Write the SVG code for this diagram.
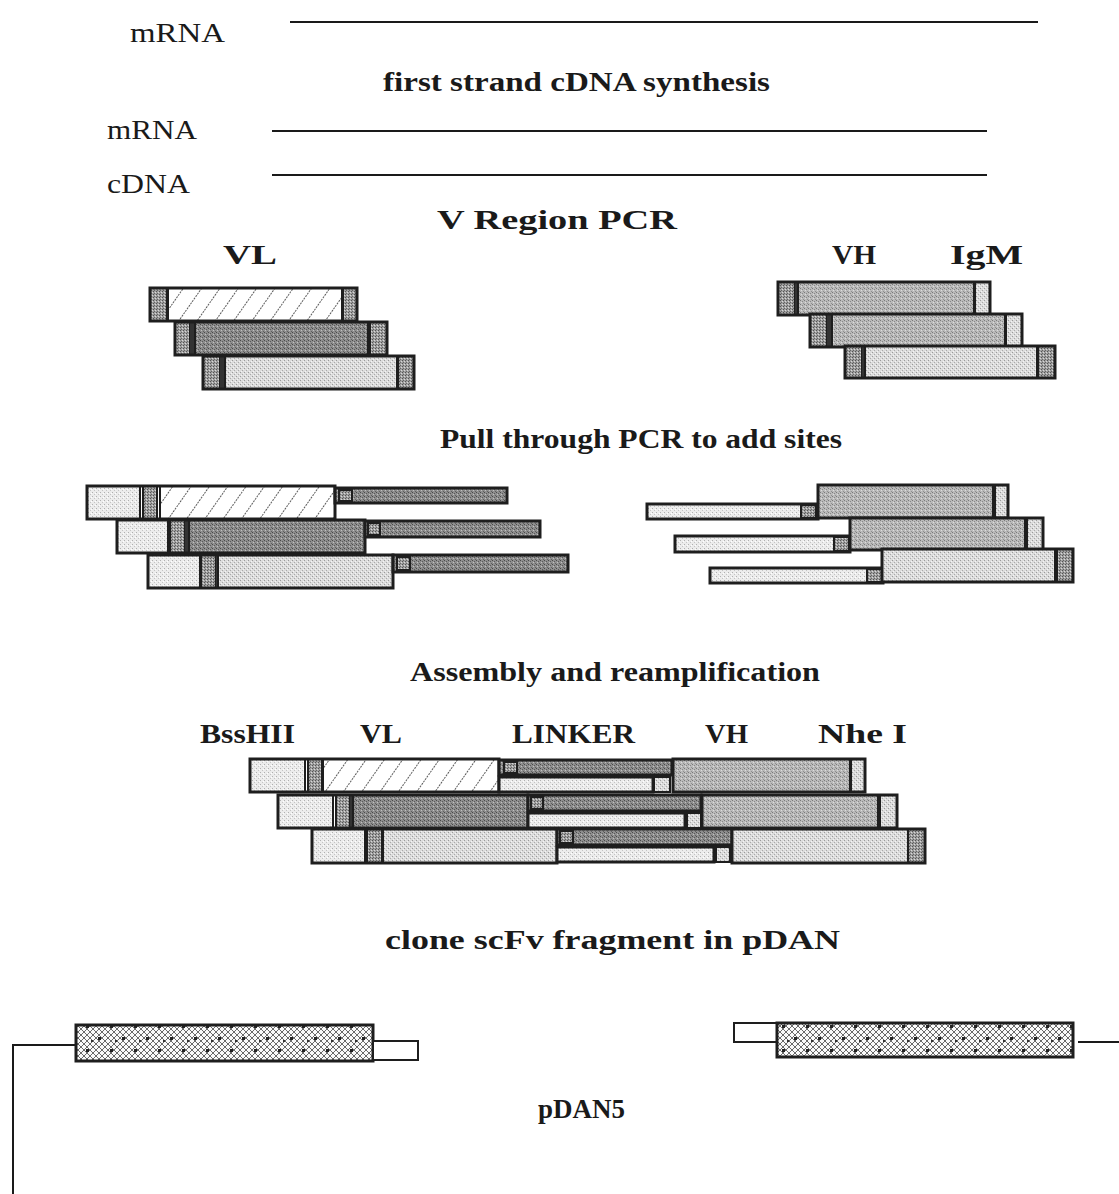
<svg xmlns="http://www.w3.org/2000/svg" width="1119" height="1194" viewBox="0 0 1119 1194">
<style>
text{font-family:"Liberation Serif","Times New Roman",serif;fill:#1a1a1a}
.t{font-size:28px}
.b{font-size:28px;font-weight:bold}
.o{stroke:#1e1e1e;stroke-width:3}
.s{stroke:#1e1e1e;stroke-width:2}
.ln{stroke:#1a1a1a;stroke-width:2;fill:none}
.hatch{fill:url(#hatch)}
.lt{fill:url(#light)}
.md{fill:url(#medium)}
.dk{fill:url(#dark)}
.cp{fill:url(#cap)}
.pl{fill:url(#pale)}
.xh{fill:url(#xhatch)}
.wh{fill:#fff}
</style>
<defs>
<pattern id="hatch" width="15" height="12" patternUnits="userSpaceOnUse" patternTransform="rotate(35)">
<rect width="15" height="12" fill="#fff"/>
<line x1="0" y1="0" x2="0" y2="12" stroke="#333" stroke-width="1.6" stroke-dasharray="2 1"/>
</pattern>
<pattern id="light" width="4" height="4" patternUnits="userSpaceOnUse">
<rect width="4" height="4" fill="#dcdcdc"/>
<rect x="0" y="0" width="1" height="1" fill="#9a9a9a"/>
<rect x="2" y="2" width="1" height="1" fill="#aaa"/>
<rect x="3" y="1" width="1" height="1" fill="#f4f4f4"/>
<rect x="1" y="3" width="1" height="1" fill="#f4f4f4"/>
</pattern>
<pattern id="pale" width="4" height="4" patternUnits="userSpaceOnUse">
<rect width="4" height="4" fill="#ececec"/>
<rect x="0" y="0" width="1" height="1" fill="#b0b0b0"/>
<rect x="2" y="2" width="1" height="1" fill="#c4c4c4"/>
<rect x="3" y="1" width="1" height="1" fill="#fff"/>
</pattern>
<pattern id="medium" width="4" height="4" patternUnits="userSpaceOnUse">
<rect width="4" height="4" fill="#bababa"/>
<rect x="0" y="0" width="1" height="1" fill="#7a7a7a"/>
<rect x="2" y="1" width="1" height="1" fill="#888"/>
<rect x="1" y="2" width="1" height="1" fill="#dcdcdc"/>
<rect x="3" y="3" width="1" height="1" fill="#909090"/>
</pattern>
<pattern id="dark" width="4" height="4" patternUnits="userSpaceOnUse">
<rect width="4" height="4" fill="#8e8e8e"/>
<rect x="0" y="0" width="1" height="1" fill="#4a4a4a"/>
<rect x="2" y="1" width="1" height="1" fill="#5a5a5a"/>
<rect x="1" y="2" width="1" height="1" fill="#c0c0c0"/>
<rect x="3" y="3" width="1" height="1" fill="#606060"/>
</pattern>
<pattern id="cap" width="3" height="3" patternUnits="userSpaceOnUse">
<rect width="3" height="3" fill="#a0a0a0"/>
<rect x="0" y="0" width="1" height="1" fill="#555"/>
<rect x="2" y="1" width="1" height="1" fill="#d8d8d8"/>
<rect x="1" y="2" width="1" height="1" fill="#666"/>
</pattern>
<pattern id="xhatch" width="24" height="24" patternUnits="userSpaceOnUse">
<rect width="24" height="24" fill="#fafafa"/>
<path d="M0 0L24 24M6 0L24 18M12 0L24 12M18 0L24 6M0 6L18 24M0 12L12 24M0 18L6 24M24 0L0 24M18 0L0 18M12 0L0 12M6 0L0 6M24 6L6 24M24 12L12 24M24 18L18 24" stroke="#6a6a6a" stroke-width="1"/>
<rect x="2" y="5" width="3" height="3" fill="#222"/>
<rect x="14" y="17" width="3" height="3" fill="#222"/>
<rect x="19" y="8" width="2" height="2" fill="#333"/>
</pattern>
</defs>

<g id="mrna-top">
<text class="t" x="130" y="42" textLength="95" lengthAdjust="spacingAndGlyphs">mRNA</text>
<line class="ln" x1="290" y1="22" x2="1038" y2="22"/>
</g>
<g id="title-first-strand"><text class="b" x="383" y="91" textLength="387" lengthAdjust="spacingAndGlyphs">first strand cDNA synthesis</text></g>
<g id="mrna-2">
<text class="t" x="107" y="139" textLength="90" lengthAdjust="spacingAndGlyphs">mRNA</text>
<line class="ln" x1="272" y1="131" x2="987" y2="131"/>
</g>
<g id="cdna">
<text class="t" x="107" y="193" textLength="83" lengthAdjust="spacingAndGlyphs">cDNA</text>
<line class="ln" x1="272" y1="175" x2="987" y2="175"/>
</g>
<g id="title-vregion"><text class="b" x="437" y="229" textLength="240" lengthAdjust="spacingAndGlyphs">V Region PCR</text></g>
<g id="label-vl"><text class="b" x="223" y="264" textLength="54" lengthAdjust="spacingAndGlyphs">VL</text></g>
<g id="label-vh"><text class="b" x="832" y="264" textLength="44" lengthAdjust="spacingAndGlyphs">VH</text></g>
<g id="label-igm"><text class="b" x="950" y="264" textLength="73" lengthAdjust="spacingAndGlyphs">IgM</text></g>

<g id="vl-fragments">
<rect class="cp s" x="150" y="288" width="17" height="33"/>
<rect class="hatch s" x="168" y="288" width="174" height="33"/>
<rect class="cp s" x="343" y="288" width="14" height="33"/>
<rect class="o" fill="none" x="150" y="288" width="207" height="33"/>

<rect class="cp s" x="175" y="322" width="15" height="33"/>
<rect fill="#333" x="190" y="322" width="5" height="33"/>
<rect class="dk s" x="195" y="322" width="173" height="33"/>
<rect class="cp s" x="370" y="322" width="17" height="33"/>
<rect class="o" fill="none" x="175" y="322" width="212" height="33"/>

<rect class="cp s" x="203" y="356" width="17" height="33"/>
<rect fill="#333" x="220" y="356" width="5" height="33"/>
<rect class="lt s" x="225" y="356" width="172" height="33"/>
<rect class="cp s" x="398" y="356" width="16" height="33"/>
<rect class="o" fill="none" x="203" y="356" width="211" height="33"/>
</g>

<g id="vh-fragments">
<rect class="cp s" x="778" y="282" width="17" height="33"/>
<rect fill="#333" x="795" y="282" width="3" height="33"/>
<rect class="md s" x="798" y="282" width="176" height="33"/>
<rect class="lt s" x="975" y="282" width="15" height="33"/>
<rect class="o" fill="none" x="778" y="282" width="212" height="33"/>

<rect class="cp s" x="810" y="314" width="17" height="33"/>
<rect fill="#333" x="827" y="314" width="5" height="33"/>
<rect class="md s" x="832" y="314" width="173" height="33"/>
<rect class="lt s" x="1006" y="314" width="16" height="33"/>
<rect class="o" fill="none" x="810" y="314" width="212" height="33"/>

<rect class="cp s" x="845" y="346" width="17" height="32"/>
<rect fill="#333" x="862" y="346" width="3" height="32"/>
<rect class="lt s" x="865" y="346" width="172" height="32"/>
<rect class="cp s" x="1038" y="346" width="17" height="32"/>
<rect class="o" fill="none" x="845" y="346" width="210" height="32"/>
</g>

<g id="title-pull"><text class="b" x="440" y="448" textLength="402" lengthAdjust="spacingAndGlyphs">Pull through PCR to add sites</text></g>

<g id="pull-left">
<rect class="pl s" x="87" y="486" width="53" height="33"/>
<rect class="cp s" x="143" y="486" width="14" height="33"/>
<rect class="hatch s" x="160" y="486" width="175" height="33"/>
<rect class="o" fill="none" x="87" y="486" width="248" height="33"/>
<rect class="dk o" x="335" y="488" width="172" height="15"/>
<rect class="cp s" x="339" y="490" width="13" height="11"/>

<rect class="pl s" x="117" y="520" width="51" height="33"/>
<rect class="cp s" x="170" y="520" width="15" height="33"/>
<rect fill="#333" x="185" y="520" width="4" height="33"/>
<rect class="dk s" x="189" y="520" width="176" height="33"/>
<rect class="o" fill="none" x="117" y="520" width="248" height="33"/>
<rect class="dk o" x="365" y="521" width="175" height="16"/>
<rect class="cp s" x="368" y="523" width="12" height="12"/>

<rect class="pl s" x="148" y="555" width="52" height="33"/>
<rect class="cp s" x="201" y="555" width="15" height="33"/>
<rect fill="#333" x="216" y="555" width="2" height="33"/>
<rect class="lt s" x="218" y="555" width="175" height="33"/>
<rect class="o" fill="none" x="148" y="555" width="245" height="33"/>
<rect class="dk o" x="393" y="555" width="175" height="17"/>
<rect class="cp s" x="397" y="557" width="13" height="13"/>
</g>

<g id="pull-right">
<rect class="pl o" x="647" y="504" width="171" height="15"/>
<rect class="cp s" x="801" y="505" width="15" height="13"/>
<rect class="md s" x="818" y="485" width="175" height="33"/>
<rect class="lt s" x="995" y="485" width="13" height="33"/>
<rect class="o" fill="none" x="818" y="485" width="190" height="33"/>

<rect class="pl o" x="675" y="536" width="175" height="16"/>
<rect class="cp s" x="834" y="537" width="15" height="14"/>
<rect class="md s" x="850" y="518" width="175" height="32"/>
<rect class="lt s" x="1027" y="518" width="16" height="32"/>
<rect class="o" fill="none" x="850" y="518" width="193" height="32"/>

<rect class="pl o" x="710" y="568" width="173" height="15"/>
<rect class="cp s" x="867" y="569" width="15" height="13"/>
<rect class="lt s" x="882" y="549" width="173" height="33"/>
<rect class="cp s" x="1057" y="549" width="16" height="33"/>
<rect class="o" fill="none" x="882" y="549" width="191" height="33"/>
</g>

<g id="title-assembly"><text class="b" x="410" y="681" textLength="410" lengthAdjust="spacingAndGlyphs">Assembly and reamplification</text></g>
<g id="label-bsshii"><text class="b" x="200" y="743" textLength="95" lengthAdjust="spacingAndGlyphs">BssHII</text></g>
<g id="label-vl2"><text class="b" x="360" y="743" textLength="42" lengthAdjust="spacingAndGlyphs">VL</text></g>
<g id="label-linker"><text class="b" x="512" y="743" textLength="123" lengthAdjust="spacingAndGlyphs">LINKER</text></g>
<g id="label-vh2"><text class="b" x="705" y="743" textLength="43" lengthAdjust="spacingAndGlyphs">VH</text></g>
<g id="label-nhei"><text class="b" x="818" y="743" textLength="89" lengthAdjust="spacingAndGlyphs">Nhe I</text></g>

<g id="assembly">
<rect class="pl s" x="250" y="759" width="55" height="33"/>
<rect class="cp s" x="308" y="759" width="14" height="33"/>
<rect class="hatch s" x="323" y="759" width="176" height="33"/>
<rect class="o" fill="none" x="250" y="759" width="249" height="33"/>
<rect class="dk o" x="499" y="760" width="173" height="15"/>
<rect class="cp s" x="504" y="762" width="13" height="11"/>
<rect class="pl o" x="499" y="777" width="154" height="15"/>
<rect class="lt s" x="654" y="777" width="16" height="15"/>
<rect class="md s" x="673" y="759" width="177" height="33"/>
<rect class="lt s" x="851" y="759" width="14" height="33"/>
<rect class="o" fill="none" x="673" y="759" width="192" height="33"/>

<rect class="pl s" x="278" y="795" width="55" height="33"/>
<rect class="cp s" x="336" y="795" width="14" height="33"/>
<rect fill="#333" x="350" y="795" width="3" height="33"/>
<rect class="dk s" x="353" y="795" width="175" height="33"/>
<rect class="o" fill="none" x="278" y="795" width="250" height="33"/>
<rect class="dk o" x="528" y="795" width="173" height="16"/>
<rect class="cp s" x="531" y="797" width="12" height="12"/>
<rect class="pl o" x="528" y="813" width="157" height="15"/>
<rect class="lt s" x="687" y="813" width="14" height="15"/>
<rect class="md s" x="702" y="795" width="176" height="33"/>
<rect class="lt s" x="880" y="795" width="17" height="33"/>
<rect class="o" fill="none" x="702" y="795" width="195" height="33"/>

<rect class="pl s" x="312" y="829" width="53" height="34"/>
<rect class="cp s" x="367" y="829" width="15" height="34"/>
<rect class="lt s" x="383" y="829" width="174" height="34"/>
<rect class="o" fill="none" x="312" y="829" width="245" height="34"/>
<rect class="dk o" x="557" y="829" width="175" height="16"/>
<rect class="cp s" x="560" y="831" width="13" height="12"/>
<rect class="pl o" x="557" y="847" width="157" height="15"/>
<rect class="lt s" x="716" y="847" width="14" height="15"/>
<rect class="lt s" x="732" y="829" width="176" height="34"/>
<rect class="cp s" x="908" y="829" width="17" height="34"/>
<rect class="o" fill="none" x="732" y="829" width="193" height="34"/>
</g>

<g id="title-clone"><text class="b" x="385" y="949" textLength="455" lengthAdjust="spacingAndGlyphs">clone scFv fragment in pDAN</text></g>

<g id="pdan-left">
<polyline class="ln" points="13,1194 13,1045 76,1045"/>
<rect class="xh o" x="76" y="1025" width="297" height="36"/>
<rect class="wh s" x="373" y="1041" width="45" height="19"/>
</g>
<g id="pdan-right">
<rect class="wh s" x="734" y="1023" width="43" height="19"/>
<rect class="xh o" x="777" y="1023" width="296" height="34"/>
<line class="ln" x1="1078" y1="1042" x2="1119" y2="1042"/>
</g>
<g id="label-pdan5"><text class="b" x="538" y="1118" textLength="87" lengthAdjust="spacingAndGlyphs">pDAN5</text></g>
</svg>
